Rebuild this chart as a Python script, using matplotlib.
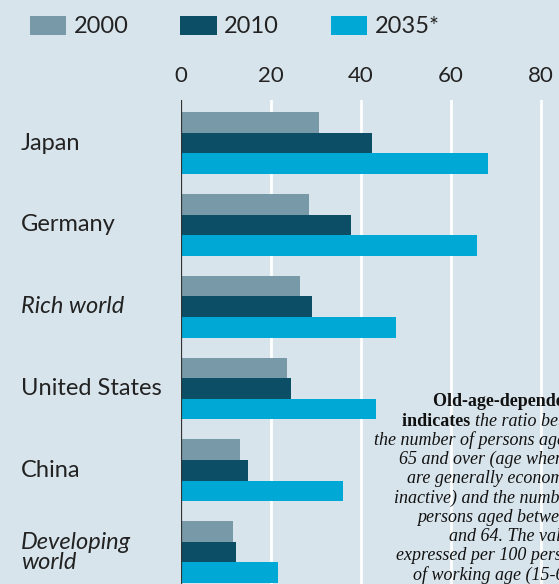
import matplotlib
matplotlib.use("Agg")
import numpy as np
import matplotlib.pyplot as plt
from matplotlib.transforms import blended_transform_factory

# old-age dependency ratio, persons 65+ per 100 persons aged 15-64
categories = ["Japan", "Germany", "Rich world", "United States", "China", "Developing\nworld"]
italic_cats = {"Rich world", "Developing\nworld"}
years = ["2000", "2010", "2035*"]
vals_2000 = [30.7, 28.5, 26.4, 23.5, 13.2, 11.6]
vals_2010 = [42.4, 37.8, 29.2, 24.4, 14.8, 12.2]
vals_2035 = [68.3, 65.7, 47.8, 43.3, 36.0, 21.6]
xticks = [0, 20, 40, 60, 80]

note_lines = [
    ("Old-age-dependency ratio", ""),
    ("indicates ", "the ratio between"),
    ("", "the number of persons aged"),
    ("", "65 and over (age when they"),
    ("", "are generally economically"),
    ("", "inactive) and the number of"),
    ("", "persons aged between 15"),
    ("", "and 64. The value is"),
    ("", "expressed per 100 persons"),
    ("", "of working age (15-64)."),
]
note_x = [433, 402, 374, 399, 407, 394, 417, 449, 396, 413]

BG = "#d8e4eb"
colors = ["#7899a8", "#0b4e66", "#00a8d5"]
label_font = "Lato"

W, H = 559, 584
fig = plt.figure(figsize=(W / 100, H / 100), dpi=100, facecolor=BG)
ax = fig.add_axes([181 / W, 0, (W - 181) / W, (H - 100) / H])
ax.set_facecolor(BG)

y = np.arange(len(categories))
h = 0.252
series = [vals_2000, vals_2010, vals_2035]
for k, (vals, col, yr) in enumerate(zip(series, colors, years)):
    ax.barh(y + (k - 1) * h, vals, height=h, color=col, label=yr, zorder=3)

ax.set_xlim(0, (W - 181) / 4.5)
ax.set_ylim(len(categories) - 1 + 0.39, -0.526)

for xv in xticks[1:]:
    ax.axvline(xv, color="white", lw=2, zorder=1)
ax.axvline(0, color="#333333", lw=1.6, zorder=4)

for s in ax.spines.values():
    s.set_visible(False)
ax.set_yticks([])
ax.xaxis.tick_top()
ax.set_xticks(xticks)
ax.set_xticklabels([str(t) for t in xticks], fontfamily=label_font, fontsize=16, color="#222222")
ax.tick_params(axis="x", length=0, pad=10)

tr = blended_transform_factory(fig.transFigure, ax.transData)
for yi, cat in zip(y, categories):
    ax.text(21 / W, yi, cat, transform=tr, ha="left", va="center",
            fontfamily=label_font, fontsize=17, color="#222222",
            style="italic" if cat in italic_cats else "normal",
            linespacing=0.95)

fig.legend(loc="upper left", bbox_to_anchor=(18 / W, 1 - 4 / H), ncol=3, frameon=False,
           prop={"family": label_font, "size": 17}, handlelength=1.55, handleheight=0.85,
           handletextpad=0.3, columnspacing=2.2, borderpad=0, labelcolor="#222222")

# definition note, drawn line by line
for i, ((bold, ital), x0) in enumerate(zip(note_lines, note_x)):
    yy = 1 - (402 + 19.2 * i) / H
    t = fig.text(x0 / W, yy, bold, fontfamily="Liberation Serif", fontweight="bold",
                 fontsize=13, ha="left", va="center", color="#111111")
    if ital:
        if bold:
            fig.canvas.draw()
            bb = t.get_window_extent()
            xs = bb.x1 / W
        else:
            xs = x0 / W
        fig.text(xs, yy, ital, fontfamily="Liberation Serif", style="italic",
                 fontsize=13, ha="left", va="center", color="#111111")

fig.savefig("out.png", dpi=100, facecolor=BG)
